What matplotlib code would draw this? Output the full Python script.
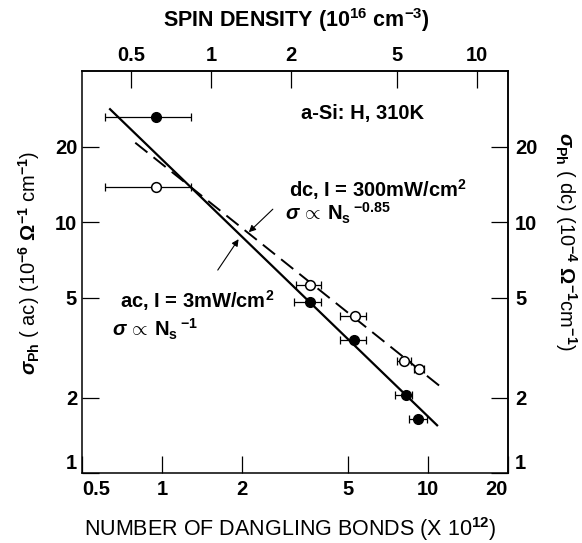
import numpy as np
import matplotlib
matplotlib.use('Agg')
import matplotlib.pyplot as plt
from matplotlib.ticker import FixedLocator, FixedFormatter, NullLocator

plt.rcParams['font.family'] = ['Liberation Sans', 'DejaVu Sans']
plt.rcParams['font.weight'] = 'bold'
plt.rcParams['mathtext.fontset'] = 'custom'
plt.rcParams['mathtext.rm'] = 'Liberation Sans:bold'
plt.rcParams['mathtext.it'] = 'Liberation Sans:italic:bold'
plt.rcParams['mathtext.bf'] = 'Liberation Sans:bold'

# ---- data ----
ac_N = [0.95, 3.60, 5.28, 8.26, 9.17]
ac_sigma = [26.4, 4.81, 3.41, 2.06, 1.64]
ac_N_lo = [0.61, 3.13, 4.67, 7.53, 8.50]
ac_N_hi = [1.28, 3.96, 5.85, 8.73, 9.94]

dc_N = [0.95, 3.60, 5.32, 8.16, 9.25]
dc_sigma = [13.8, 5.61, 4.25, 2.80, 2.60]
dc_N_lo = [0.61, 3.18, 4.67, 7.64, 8.88]
dc_N_hi = [1.28, 3.96, 5.85, 8.65, 9.68]

ac_fit_N = [0.633, 10.9]
ac_fit_sigma = [28.5, 1.543]
dc_fit_N = [0.793, 11.55]
dc_fit_sigma = [20.8, 2.15]

bottom_ticks = [0.5, 1, 2, 5, 10, 20]
bottom_labels = ['0.5', '1', '2', '5', '10', '20']
top_ticks = [0.5, 1, 2, 5, 10]
top_labels = ['0.5', '1', '2', '5', '10']
y_ticks = [1, 2, 5, 10, 20]
y_labels = ['1', '2', '5', '10', '20']
spin_factor = 1.53  # dangling bonds (1e12) per spin density unit (1e16 cm^-3)

W, H = 582, 543
fig = plt.figure(figsize=(W / 100, H / 100), dpi=100)
L, R, T, B = 82, 508, 71.5, 473.3
ax = fig.add_axes([L / W, 1 - B / H, (R - L) / W, (B - T) / H])
ax.set_xscale('log')
ax.set_yscale('log')
ax.set_xlim(0.5, 20)
ax.set_ylim(1, 40)

# fit lines
ax.plot(ac_fit_N, ac_fit_sigma, color='black', lw=1.6, solid_capstyle='butt')
ax.plot(dc_fit_N, dc_fit_sigma, color='black', lw=1.4, dashes=(8, 4))

# error bars
ac_err = [np.array(ac_N) - np.array(ac_N_lo), np.array(ac_N_hi) - np.array(ac_N)]
dc_err = [np.array(dc_N) - np.array(dc_N_lo), np.array(dc_N_hi) - np.array(dc_N)]
ax.errorbar(ac_N, ac_sigma, xerr=ac_err, fmt='none', ecolor='black',
            elinewidth=0.9, capsize=3, capthick=0.9, zorder=3)
ax.errorbar(dc_N, dc_sigma, xerr=dc_err, fmt='none', ecolor='black',
            elinewidth=0.9, capsize=3, capthick=0.9, zorder=3)
ax.plot(ac_N, ac_sigma, 'o', ms=7, mfc='black', mec='black', mew=1.0, zorder=4)
ax.plot(dc_N, dc_sigma, 'o', ms=7, mfc='white', mec='black', mew=1.1, zorder=4)

# arrows
arrow_kw = dict(arrowstyle='-|>', lw=0.8, color='black', mutation_scale=10,
                shrinkA=0, shrinkB=0)
ax.annotate('', xy=(2.12, 9.15), xytext=(2.61, 11.3), arrowprops=arrow_kw)
ax.annotate('', xy=(1.94, 8.58), xytext=(1.62, 6.46), arrowprops=arrow_kw)

# annotations
fs_a = 14.5
ax.text(3.33, 27.3, 'a-Si: H, 310K', fontsize=fs_a, ha='left', va='center')
ax.text(3.0, 12.7, r'dc, I = 300mW/cm$^2$', fontsize=fs_a, ha='left', va='baseline')
ax.text(2.89, 10.2, r'$\sigma\,\propto\,\mathrm{N}_{\rm s}\,{}^{-0.85}$', fontsize=fs_a,
        ha='left', va='baseline')
ax.text(0.696, 4.56, r'ac, I = 3mW/cm$^2$', fontsize=fs_a, ha='left', va='baseline')
ax.text(0.649, 3.5, r'$\sigma\,\propto\,\mathrm{N}_{\rm s}\,{}^{-1}$', fontsize=fs_a,
        ha='left', va='baseline')

# ticks
tick_kw = dict(direction='in', length=12.5, width=0.9, labelsize=14.5)
ax.xaxis.set_major_locator(FixedLocator(bottom_ticks))
ax.xaxis.set_major_formatter(FixedFormatter(bottom_labels))
ax.xaxis.set_minor_locator(NullLocator())
ax.yaxis.set_major_locator(FixedLocator(y_ticks))
ax.yaxis.set_major_formatter(FixedFormatter(y_labels))
ax.yaxis.set_minor_locator(NullLocator())
ax.tick_params(axis='x', pad=5, **tick_kw)
ax.tick_params(axis='y', pad=3.5, **tick_kw)
for s in ax.spines.values():
    s.set_linewidth(1.1)

secx = ax.secondary_xaxis('top', functions=(lambda x: x / spin_factor,
                                             lambda x: x * spin_factor))
secx.xaxis.set_major_locator(FixedLocator(top_ticks))
secx.xaxis.set_major_formatter(FixedFormatter(top_labels))
secx.xaxis.set_minor_locator(NullLocator())
secx.tick_params(axis='x', pad=5, **tick_kw)
secx.spines['top'].set_linewidth(1.1)

secy = ax.secondary_yaxis('right', functions=(lambda y: y, lambda y: y))
secy.yaxis.set_major_locator(FixedLocator(y_ticks))
secy.yaxis.set_major_formatter(FixedFormatter(y_labels))
secy.yaxis.set_minor_locator(NullLocator())
secy.tick_params(axis='y', pad=5, **tick_kw)
secy.spines['right'].set_linewidth(1.1)

fig.canvas.draw()
for lbl in ax.get_xticklabels():
    if lbl.get_text() == '0.5':
        lbl.set_ha('left')
    elif lbl.get_text() == '20':
        lbl.set_ha('right')
for lbl in ax.get_yticklabels() + secy.get_yticklabels():
    if lbl.get_text() == '1':
        lbl.set_va('bottom')

# axis titles
fig.text(296 / W, 1 - 20 / H, r'SPIN DENSITY (10$^{16}$ cm$^{-3}$)', fontsize=15.5,
         ha='center', va='center')
fig.text(290 / W, 1 - 529 / H, r'NUMBER OF DANGLING BONDS (X 10$^{12}$)', fontsize=15.5,
         ha='center', va='center', fontweight='normal')
fig.text(29 / W, 1 - 263 / H, r'$\sigma_{\rm Ph}$ ( ac) (10$^{-6}$ $\Omega^{-1}$ cm$^{-1}$)',
         fontsize=14.5, rotation=90, ha='center', va='center', fontweight='normal')
fig.text(566 / W, 1 - 241 / H, r'$\sigma_{\rm Ph}$ ( dc) (10$^{-4}$ $\Omega^{-1}$cm$^{-1}$)',
         fontsize=14.5, rotation=-90, ha='center', va='center', fontweight='normal')

fig.savefig('out.png', dpi=100)
